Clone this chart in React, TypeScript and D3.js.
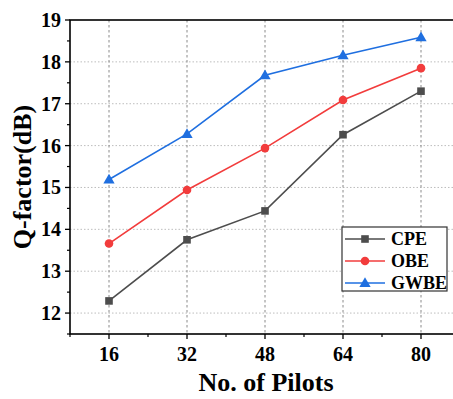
import React from 'react';
import * as d3 from 'd3';

const pilots = [16, 32, 48, 64, 80];
const cpe = [12.29, 13.75, 14.44, 16.26, 17.3];
const obe = [13.66, 14.94, 15.94, 17.09, 17.85];
const gwbe = [15.19, 16.28, 17.68, 18.16, 18.59];
const seriesNames = ['CPE', 'OBE', 'GWBE'];
const yTicks = [12, 13, 14, 15, 16, 17, 18, 19];

const W = 453;
const H = 399;
const FONT = '"Liberation Serif", "Times New Roman", serif';

const x = d3.scaleLinear().domain([8, 88]).range([70, 460]);
const y = d3.scaleLinear().domain([11.5, 19]).range([334, 20]);

const series = [
  { name: seriesNames[0], values: cpe, color: '#4d4d4d', marker: 'square' },
  { name: seriesNames[1], values: obe, color: '#f23c3c', marker: 'circle' },
  { name: seriesNames[2], values: gwbe, color: '#1f6fe0', marker: 'triangle' },
];

function Marker({ type, cx, cy, color }: { type: string; cx: number; cy: number; color: string }) {
  if (type === 'square') return <rect x={cx - 3.8} y={cy - 3.8} width={7.6} height={7.6} fill={color} />;
  if (type === 'circle') return <circle cx={cx} cy={cy} r={4.3} fill={color} />;
  const p = d3.symbol(d3.symbolTriangle, 55)();
  return <path d={p || ''} transform={`translate(${cx},${cy + 0.8})`} fill={color} />;
}

export default function App() {
  const line = d3.line<number>().x((_, i) => x(pilots[i])).y((d) => y(d));
  const yMinor = d3.range(11.5, 19.01, 0.5).filter((v) => !yTicks.includes(v));
  const xMinor = [8, 24, 40, 56, 72, 88];

  return (
    <svg width={W} height={H} style={{ position: 'absolute', left: 0, top: 0, background: '#fff' }} fontFamily={FONT}>
      {/* grid */}
      {yTicks.slice(0, -1).map((t) => (
        <line key={'gy' + t} x1={70} x2={460} y1={y(t)} y2={y(t)} stroke="#bdbdbd" strokeWidth={1} strokeDasharray="1.5,2" />
      ))}
      {pilots.map((p) => (
        <line key={'gx' + p} x1={x(p)} x2={x(p)} y1={20} y2={334} stroke="#8a8a8a" strokeWidth={1} strokeDasharray="2.5,2.5" />
      ))}

      {/* lines and markers */}
      {series.map((s) => (
        <g key={s.name}>
          <path d={line(s.values) || ''} fill="none" stroke={s.color} strokeWidth={1.6} />
          {s.values.map((v, i) => (
            <Marker key={i} type={s.marker} cx={x(pilots[i])} cy={y(v)} color={s.color} />
          ))}
        </g>
      ))}

      {/* frame */}
      <rect x={70} y={20} width={390} height={314} fill="none" stroke="#000" strokeWidth={1.6} />

      {/* y ticks */}
      {yTicks.map((t) => (
        <g key={'yt' + t}>
          <line x1={65} x2={70} y1={y(t)} y2={y(t)} stroke="#000" strokeWidth={1.3} />
          <text x={61} y={y(t) + 7} textAnchor="end" fontSize={20} fontWeight="bold">{t}</text>
        </g>
      ))}
      {yMinor.map((t) => (
        <line key={'ym' + t} x1={67} x2={70} y1={y(t)} y2={y(t)} stroke="#000" strokeWidth={1.2} />
      ))}

      {/* x ticks */}
      {pilots.map((p) => (
        <g key={'xt' + p}>
          <line x1={x(p)} x2={x(p)} y1={334} y2={339} stroke="#000" strokeWidth={1.3} />
          <text x={x(p)} y={361} textAnchor="middle" fontSize={20} fontWeight="bold">{p}</text>
        </g>
      ))}
      {xMinor.map((p) => (
        <line key={'xm' + p} x1={x(p)} x2={x(p)} y1={334} y2={337} stroke="#000" strokeWidth={1.2} />
      ))}

      {/* axis titles */}
      <text x={266} y={391} textAnchor="middle" fontSize={26} fontWeight="bold">No. of Pilots</text>
      <text transform="translate(31,177) rotate(-90)" textAnchor="middle" fontSize={26} fontWeight="bold">Q-factor(dB)</text>

      {/* legend */}
      <rect x={342} y={227} width={105} height={64} fill="#fff" stroke="#333" strokeWidth={1.2} />
      {series.map((s, i) => {
        const ly = 239 + i * 22;
        return (
          <g key={'lg' + s.name}>
            <line x1={345} x2={385} y1={ly} y2={ly} stroke={s.color} strokeWidth={1.6} />
            <Marker type={s.marker} cx={365} cy={ly} color={s.color} />
            <text x={391} y={ly + 6} fontSize={18} fontWeight="bold">{s.name}</text>
          </g>
        );
      })}
    </svg>
  );
}
